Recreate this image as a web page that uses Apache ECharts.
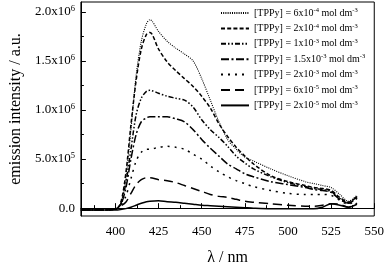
<!DOCTYPE html>
<html>
<head>
<meta charset="utf-8">
<script src="https://cdn.jsdelivr.net/npm/echarts@6/dist/echarts.min.js"></script>
<style>html,body{margin:0;padding:0;background:#fff}#c{width:387px;height:271px}</style>
</head>
<body>
<div id="c"></div>
<script>
// wavelengths (nm)
var wavelengths = [380,390,400,403,406,409,412,415,418,420,425,430,435,440,445,450,455,460,465,470,475,480,490,500,510,515,520,525,530,535,540];
// intensities in units of 10^6 a.u.
var s6e4   = [-0.02,-0.02,-0.01,0.04,0.30,0.80,1.35,1.70,1.88,1.92,1.80,1.70,1.63,1.57,1.50,1.32,1.10,0.88,0.70,0.60,0.52,0.48,0.40,0.33,0.27,0.25,0.23,0.21,0.14,0.07,0.13];
var s2e4   = [-0.02,-0.02,-0.01,0.05,0.35,0.85,1.30,1.62,1.77,1.79,1.62,1.49,1.40,1.32,1.24,1.14,1.02,0.86,0.73,0.62,0.53,0.45,0.33,0.27,0.23,0.21,0.20,0.18,0.11,0.06,0.12];
var s1e3   = [-0.02,-0.02,-0.01,0.04,0.25,0.60,0.95,1.12,1.19,1.20,1.17,1.14,1.12,1.10,1.03,0.90,0.80,0.72,0.63,0.53,0.46,0.40,0.32,0.26,0.22,0.20,0.19,0.17,0.10,0.05,0.12];
var s15e3  = [-0.02,-0.02,-0.01,0.03,0.20,0.50,0.75,0.88,0.92,0.93,0.93,0.93,0.91,0.88,0.80,0.70,0.61,0.53,0.45,0.40,0.35,0.32,0.27,0.24,0.21,0.19,0.18,0.16,0.09,0.05,0.11];
var s2e3   = [-0.02,-0.02,-0.01,0.03,0.12,0.30,0.48,0.57,0.60,0.60,0.62,0.63,0.62,0.60,0.55,0.50,0.43,0.37,0.32,0.28,0.25,0.22,0.18,0.15,0.14,0.14,0.14,0.13,0.08,0.04,0.10];
var s6e5   = [-0.02,-0.02,-0.01,0.02,0.06,0.15,0.24,0.29,0.31,0.31,0.29,0.28,0.26,0.23,0.20,0.17,0.14,0.12,0.11,0.09,0.07,0.06,0.045,0.03,0.02,0.02,0.03,0.045,0.04,0.01,0.05];
var s2e5   = [-0.02,-0.02,-0.02,-0.015,-0.005,0.01,0.03,0.05,0.065,0.07,0.075,0.065,0.06,0.05,0.04,0.03,0.025,0.02,0.015,0.01,0.005,0.0,-0.005,-0.005,-0.005,-0.005,0.01,0.045,0.03,0.01,0.04];

var concMant = ["6", "2", "1", "1.5", "2", "6", "2"];
var concExp  = ["-4", "-4", "-3", "-3", "-3", "-5", "-5"];

var xTickValues = [400,425,450,475,500,525,550];
var xMinorTicks = [387.5,412.5,437.5,462.5,487.5,512.5,537.5];
var yTickValues = [0,0.5,1,1.5,2];
var yTickMant = ["0.0","5.0","1.0","1.5","2.0"];
var yTickExp  = ["","5","6","6","6"];
var yMinorTicks = [0.25,0.75,1.25,1.75];

var seriesData = [s6e4, s2e4, s1e3, s15e3, s2e3, s6e5, s2e5];
var dashes = [[1,1.2],[4,2.2],[5,2,1.5,2,1.5,2],[8,2.5,2,2.5],[2,5],[9,5],'solid'];
var widths = [1.1,1.5,1.5,1.5,1.5,1.5,1.5];

var FONT = 'Liberation Serif';
var names = concMant.map(function(m,i){ return '[TPPy] = ' + m + 'x10^' + concExp[i] + ' mol dm^-3'; });

var series = seriesData.map(function(arr, i){
  return {
    type: 'line', name: names[i],
    data: wavelengths.map(function(w, j){ return [w, arr[j]]; }),
    showSymbol: false, symbol: 'none', smooth: 0.3,
    lineStyle: { color: '#000', width: widths[i], type: dashes[i] },
    itemStyle: { color: '#000', opacity: 0 },
    emphasis: { disabled: true },
    xAxisIndex: 0, yAxisIndex: 0, z: 3
  };
});

var chart = echarts.init(document.getElementById('c'), null, {renderer: 'canvas'});
chart.setOption({
  animation: false,
  backgroundColor: '#fff',
  textStyle: { fontFamily: FONT, color: '#000' },
  grid: { left: 70, right: 11, top: 2, bottom: 49, show: true, borderColor: '#000', borderWidth: 1, backgroundColor: 'transparent' },
  legend: {
    orient: 'vertical', left: 220, top: 7, padding: 0,
    itemWidth: 28, itemHeight: 14, itemGap: 3.8, itemTextGap: 2,
    itemStyle: { opacity: 0 },
    textStyle: { fontFamily: FONT, fontSize: 10, color: '#000',
      rich: { sup: { fontFamily: FONT, fontSize: 6.5, verticalAlign: 'top', padding: [0,0,5,0], color: '#000' } } },
    formatter: function(n){
      var i = names.indexOf(n);
      return '[TPPy] = ' + concMant[i] + 'x10{sup|' + concExp[i] + '} mol dm{sup|-3}';
    },
    data: names
  },
  xAxis: [{
    type: 'value', min: 380, max: 550, position: 'bottom',
    name: 'λ / nm', nameLocation: 'middle', nameGap: 34,
    nameTextStyle: { fontFamily: FONT, fontSize: 16, color: '#000' },
    axisLine: { show: true, lineStyle: { color: '#000', width: 1 } },
    axisTick: { show: true, inside: true, length: 5, customValues: xTickValues, lineStyle: { color: '#000' } },
    axisLabel: { show: true, customValues: xTickValues, fontFamily: FONT, fontSize: 13, color: '#000', margin: 9 },
    splitLine: { show: false }
  }, {
    type: 'value', min: 380, max: 550, position: 'bottom', gridIndex: 0,
    axisLine: { show: false },
    axisTick: { show: true, inside: true, length: 3, customValues: xMinorTicks, lineStyle: { color: '#000' } },
    axisLabel: { show: false }, splitLine: { show: false }
  }],
  yAxis: [{
    type: 'value', min: -0.08, max: 2.1, position: 'left',
    name: 'emission intensity / a.u.', nameLocation: 'middle', nameGap: 48,
    nameTextStyle: { fontFamily: FONT, fontSize: 16, color: '#000' },
    axisLine: { show: true, lineStyle: { color: '#000', width: 1 } },
    axisTick: { show: true, inside: true, length: 5, customValues: yTickValues, lineStyle: { color: '#000' } },
    axisLabel: { show: true, customValues: yTickValues, fontFamily: FONT, fontSize: 13, color: '#000', margin: 6,
      formatter: function(v){
        var i = yTickValues.indexOf(v);
        if (i < 0) return '';
        return yTickExp[i] ? yTickMant[i] + 'x10{sup|' + yTickExp[i] + '}' : yTickMant[i];
      },
      rich: { sup: { fontFamily: FONT, fontSize: 8.5, verticalAlign: 'top', padding: [0,0,6,0], color: '#000' } }
    },
    splitLine: { show: false }
  }, {
    type: 'value', min: -0.08, max: 2.1, position: 'left', gridIndex: 0,
    axisLine: { show: false },
    axisTick: { show: true, inside: true, length: 3, customValues: yMinorTicks, lineStyle: { color: '#000' } },
    axisLabel: { show: false }, splitLine: { show: false }
  }],
  series: series
});
</script>
</body>
</html>
